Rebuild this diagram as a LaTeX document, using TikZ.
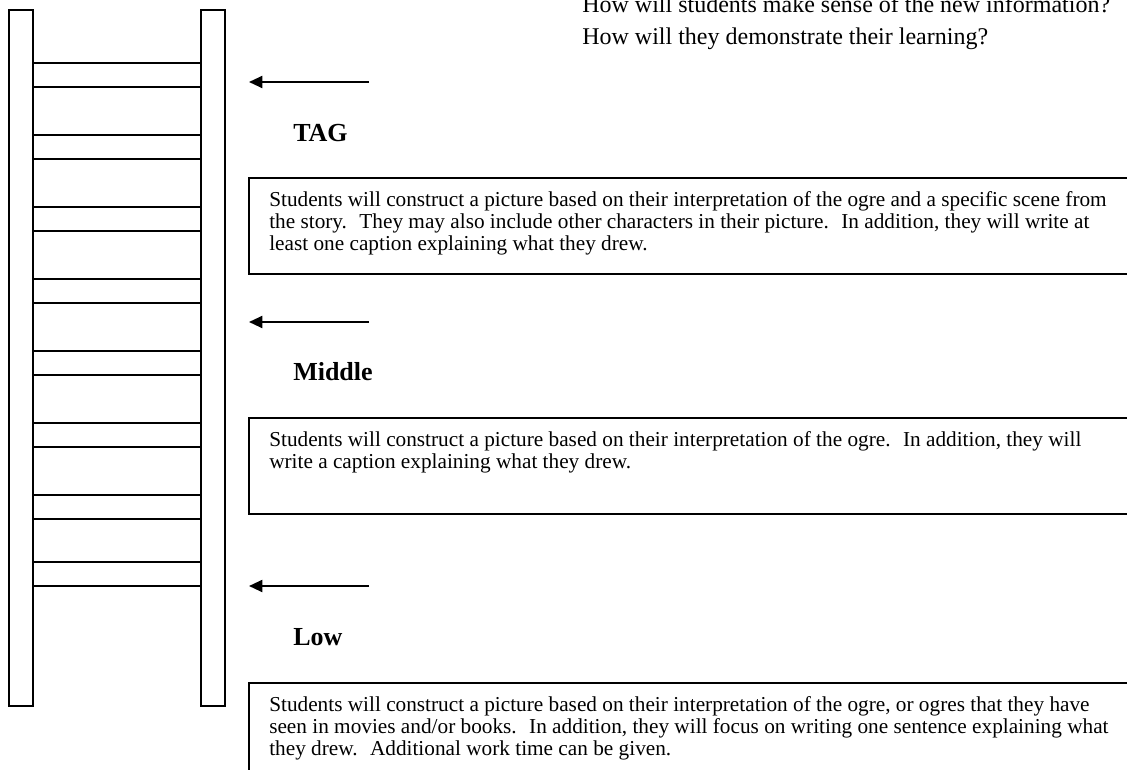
\documentclass[tikz,border=0pt]{standalone}
\usepackage{fontspec}
\setmainfont{Liberation Serif}
\usetikzlibrary{arrows.meta}

\begin{document}
\begin{tikzpicture}[x=0.75pt, y=-0.75pt,
  rail/.style={draw=black, line width=1.5pt},
  rung/.style={draw=black, line width=1.1pt},
  pointer/.style={draw=black, line width=1.5pt, -{Triangle[length=10pt, width=9pt]}},
  levelbox/.style={draw=black, line width=1.5pt},
  levelname/.style={anchor=base west, inner sep=0pt, font=\fontsize{19.5}{23}\selectfont\bfseries},
  leveltext/.style={anchor=base west, inner sep=0pt, align=left, font=\fontsize{15.95}{16.5}\selectfont},
  question/.style={anchor=base west, inner sep=0pt, align=left, font=\fontsize{18}{24}\selectfont}]
  \def \railtop {10};
  \def \railbottom {706};
  \def \boxleft {249};
  \def \boxright {1140};
  \def \textleft {269};

  \useasboundingbox (0,0) rectangle (1127,770);
  \clip (0,0) rectangle (1127,770);

  % Draw the two rails of the ladder.
  \draw[rail] (9,\railtop) rectangle (33,\railbottom);
  \draw[rail] (201,\railtop) rectangle (225,\railbottom);

  % Draw the rungs, two lines each.
  \foreach \y in {63, 135, 207, 279, 351, 423, 495, 562} {
    \draw[rung] (33,\y) -- (201,\y);
    \draw[rung] (33,{\y + 24}) -- (201,{\y + 24});
  };

  % Draw the arrows pointing at the ladder.
  \foreach \lvl/\y in {tag/82, mid/322, low/586} {
    \coordinate (\lvl tail) at (369,\y);
    \coordinate (\lvl tip) at (\boxleft,\y);
    \draw[pointer] (\lvl tail) -- (\lvl tip);
  };

  % Level names.
  \node[levelname] (tag) at (293,142) {TAG};
  \node[levelname] (mid) at (293,380) {Middle};
  \node[levelname] (low) at (293,645) {Low};

  % Draw the boxes (cut off by the page on the right and at the bottom).
  \draw[levelbox] (\boxleft,178) rectangle (\boxright,274);
  \draw[levelbox] (\boxleft,418) rectangle (\boxright,514);
  \draw[levelbox] (\boxleft,683) rectangle (\boxright,800);

  % Box texts, placed by the baseline of their last line.
  \node[leveltext] (tagtext) at (\textleft,250) {Students will construct a picture based on their interpretation of the ogre and a specific scene from\\
    the story.~ They may also include other characters in their picture.~ In addition, they will write at\\
    least one caption explaining what they drew.};
  \node[leveltext] (midtext) at (\textleft,468) {Students will construct a picture based on their interpretation of the ogre.~ In addition, they will\\
    write a caption explaining what they drew.};
  \node[leveltext] (lowtext) at (\textleft,755) {Students will construct a picture based on their interpretation of the ogre, or ogres that they have\\
    seen in movies and/or books.~ In addition, they will focus on writing one sentence explaining what\\
    they drew.~ Additional work time can be given.};

  % Questions at the top, cut off by the page.
  \node[question] (questions) at (582,45) {How will students make sense of the new information?\\
    How will they demonstrate their learning?};
\end{tikzpicture}
\end{document}
